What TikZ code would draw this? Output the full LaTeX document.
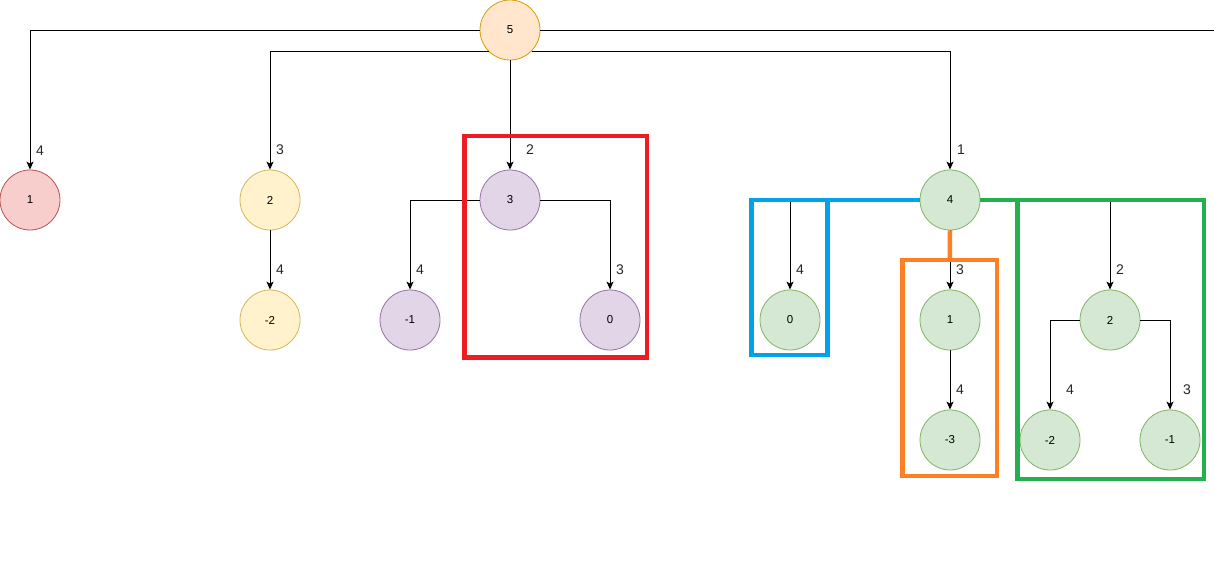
\documentclass[tikz,border=0pt]{standalone}
\usepackage{fontspec}
\setmainfont{Liberation Sans}
\usetikzlibrary{arrows.meta}
\definecolor{rootfill}{HTML}{FFE6CC}\definecolor{rootline}{HTML}{D79B00}
\definecolor{redfill}{HTML}{F8CECC}\definecolor{redline}{HTML}{B85450}
\definecolor{yelfill}{HTML}{FFF2CC}\definecolor{yelline}{HTML}{D6B656}
\definecolor{purfill}{HTML}{E1D5E7}\definecolor{purline}{HTML}{9673A6}
\definecolor{grnfill}{HTML}{D5E8D4}\definecolor{grnline}{HTML}{82B366}
\definecolor{boxred}{HTML}{ED1C24}\definecolor{boxblue}{HTML}{00A2E8}
\definecolor{boxorange}{HTML}{FF7F27}\definecolor{boxgreen}{HTML}{22B14C}
\tikzset{
  vertex/.style={circle, minimum size=60pt, inner sep=0pt, line width=0.8pt,
    font=\fontsize{11.5}{13}\selectfont},
  rootv/.style={vertex, draw=rootline, fill=rootfill},
  redv/.style={vertex, draw=redline, fill=redfill},
  yelv/.style={vertex, draw=yelline, fill=yelfill},
  purv/.style={vertex, draw=purline, fill=purfill},
  grnv/.style={vertex, draw=grnline, fill=grnfill},
  edge/.style={draw=black, line width=0.9pt, -{Stealth[length=8pt,width=7pt,inset=2pt]}},
  plain/.style={draw=black, line width=0.9pt},
  lbl/.style={font=\fontsize{14}{16}\selectfont, text=black!85, inner sep=0pt},
  frame/.style={draw=#1, line width=4.5pt, rectangle, inner sep=0pt, outer sep=0pt, fill=none},
  link/.style={draw=#1, line width=4.5pt}
}
\begin{document}
\begin{tikzpicture}[x=1pt, y=-1pt]
\useasboundingbox (0,0) rectangle (1214,580);

% vertices
\node[rootv] (root) at (510,30) {5};
\node[redv]  (a1) at (30,200) {1};
\node[yelv]  (b2) at (270,200) {2};
\node[yelv]  (b2c) at (270,320) {-2};
\node[purv]  (c3) at (510,200) {3};
\node[purv]  (c3l) at (410,320) {-1};
\node[purv]  (c3r) at (610,320) {0};
\node[grnv]  (d4) at (950,200) {4};
\node[grnv]  (d0) at (790,320) {0};
\node[grnv]  (d1) at (950,320) {1};
\node[grnv]  (d1c) at (950,440) {-3};
\node[grnv]  (d2) at (1110,320) {2};
\node[grnv]  (d2l) at (1050,440) {-2};
\node[grnv]  (d2r) at (1170,440) {-1};
\coordinate (offpage) at (1214,30);

% connectors
\draw[plain] (root.east) -- (offpage);
\draw[edge] (root.west) -| (a1.north);
\draw[edge] (root.south west) -| (b2.north);
\draw[edge] (root) -- (c3);
\draw[edge] (root.south east) -| (d4.north);
\draw[edge] (b2) -- (b2c);
\draw[edge] (c3.west) -| (c3l.north);
\draw[edge] (c3.east) -| (c3r.north);
\draw[edge] (d4.west) -| (d0.north);
\draw[edge] (d4) -- (d1);
\draw[edge] (d4.east) -| (d2.north);
\draw[edge] (d1) -- (d1c);
\draw[edge] (d2.west) -| (d2l.north);
\draw[edge] (d2.east) -| (d2r.north);

% weights
\node[lbl] (w1) at (40,151) {4};
\node[lbl] (w2) at (280,150) {3};
\node[lbl] (w3) at (530,150) {2};
\node[lbl] (w4) at (961,150) {1};
\node[lbl] (w5) at (280,270) {4};
\node[lbl] (w6) at (420,270) {4};
\node[lbl] (w7) at (620,270) {3};
\node[lbl] (w8) at (800,270) {4};
\node[lbl] (w9) at (960,270) {3};
\node[lbl] (w10) at (1120,270) {2};
\node[lbl] (w11) at (960,390) {4};
\node[lbl] (w12) at (1070,390) {4};
\node[lbl] (w13) at (1187,390) {3};

% highlighted subtrees
\node[frame=boxred, minimum width=182.5pt, minimum height=221.5pt] (redbox) at (555.75,246.75) {};
\node[frame=boxblue, minimum width=75.8pt, minimum height=155pt] (bluebox) at (789.6,277.5) {};
\node[frame=boxorange, minimum width=94.5pt, minimum height=216pt] (orangebox) at (949.75,368) {};
\node[frame=boxgreen, minimum width=186.5pt, minimum height=279pt] (greenbox) at (1110.75,339.5) {};
\draw[link=boxblue] (d4.west) -- (d4.west -| bluebox.north east);
\draw[link=boxorange] (d4.south) -- (orangebox.north);
\draw[link=boxgreen] (d4.east) -- (d4.east -| greenbox.north west);
\end{tikzpicture}
\end{document}
